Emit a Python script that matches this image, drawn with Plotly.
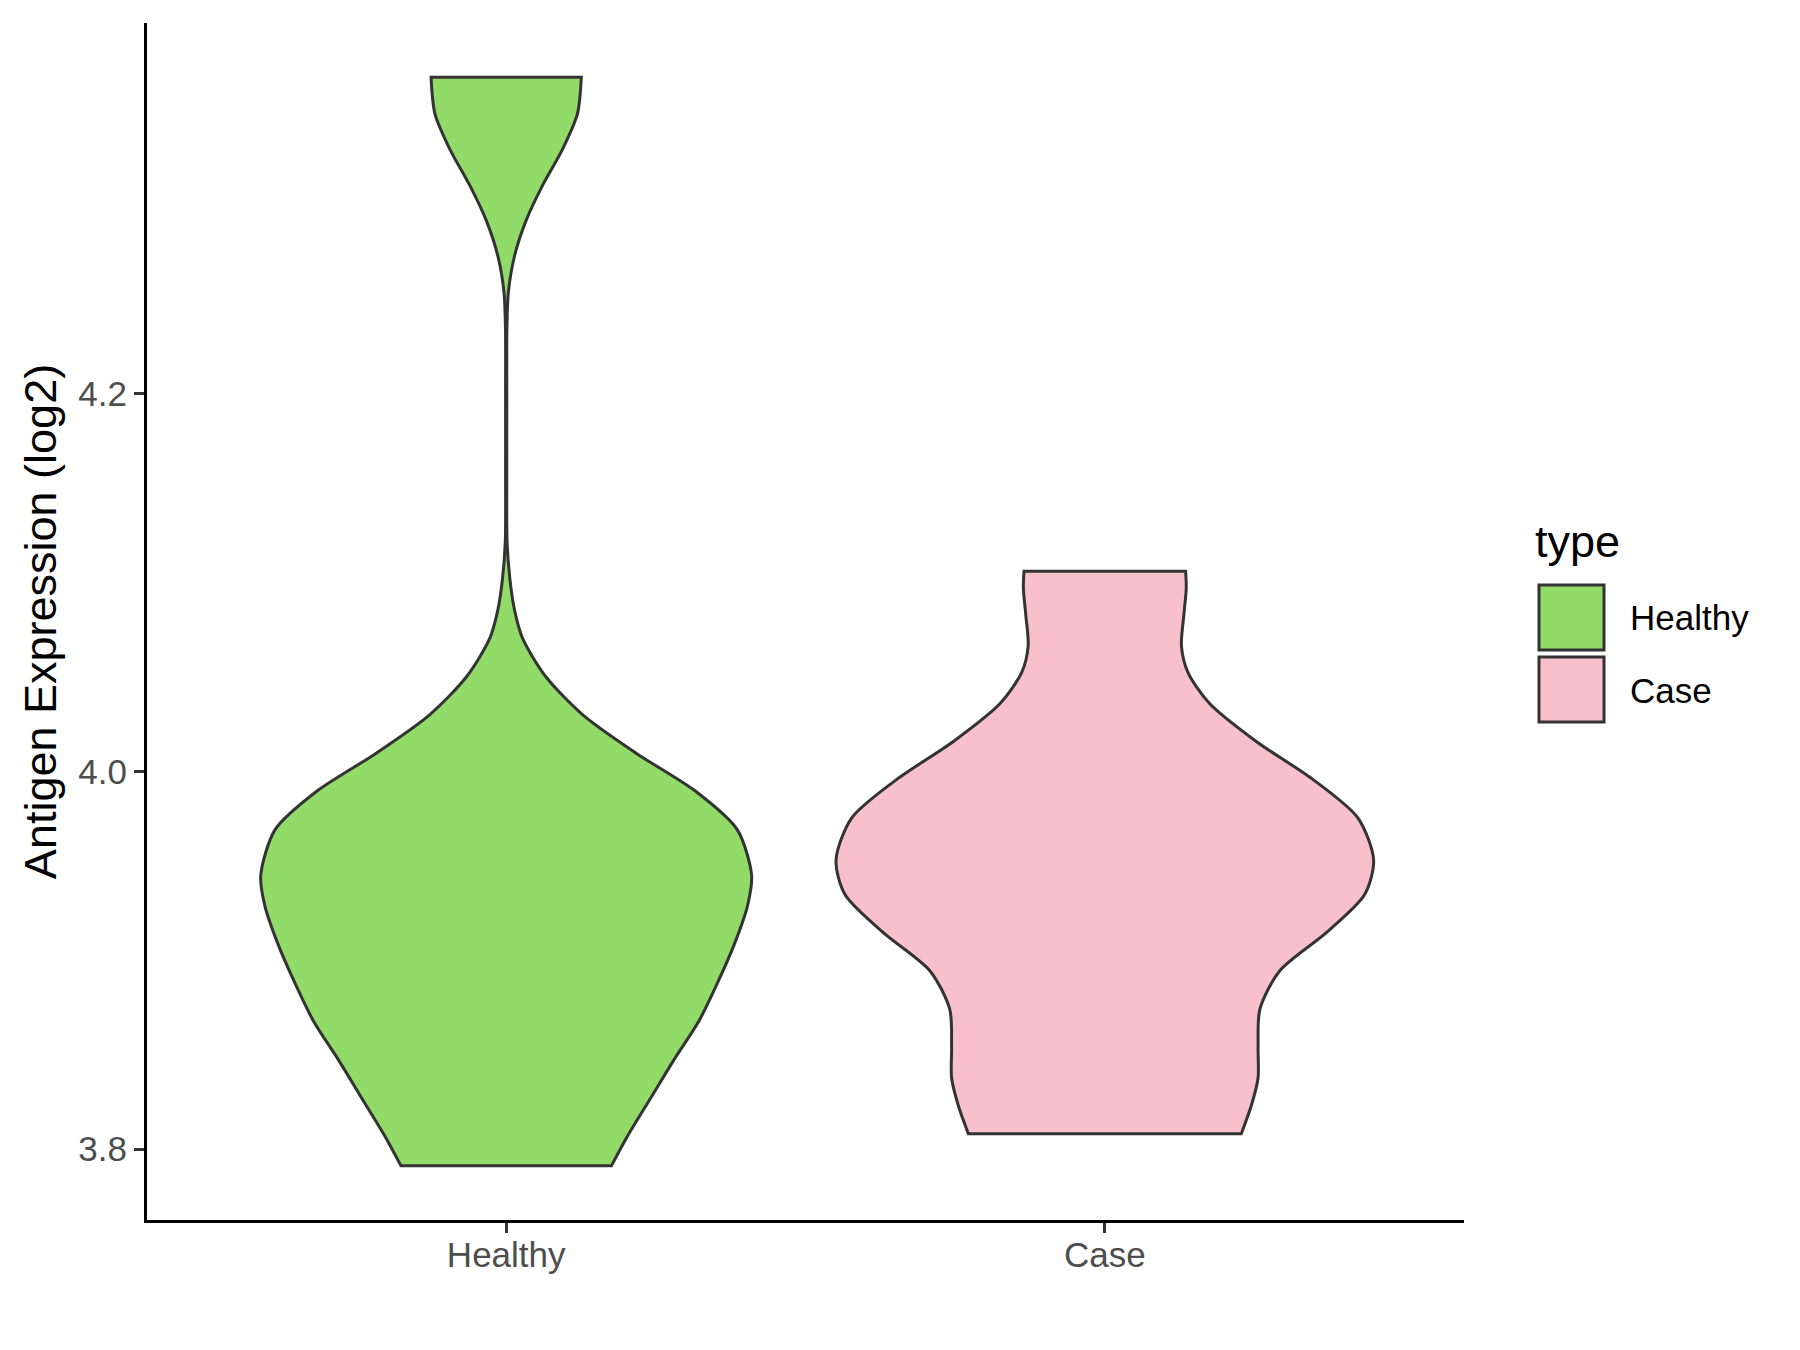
import plotly.graph_objects as go

# categories and their positions on the x axis
categories = ["Healthy", "Case"]
positions = [1, 2]
fill_colors = ["#93DB69", "#F7C0CB"]

# violin outlines: expression value and half-width (in category units)
healthy_y = [4.3677, 4.3484, 4.3296, 4.3106, 4.2917, 4.2728, 4.2540, 4.2350, 4.2000,
             4.1600, 4.1215, 4.1026, 4.0855, 4.0705, 4.0503, 4.0300, 4.0097, 3.9894,
             3.9692, 3.9449, 3.9287, 3.9084, 3.8880, 3.8678, 3.8476, 3.8273, 3.8070, 3.7912]
healthy_hw = [0.1255, 0.119, 0.094, 0.061, 0.033, 0.0137, 0.0037, 0.0012, 0.001,
              0.001, 0.0015, 0.006, 0.014, 0.0275, 0.066, 0.128, 0.217, 0.317,
              0.386, 0.410, 0.403, 0.381, 0.353, 0.322, 0.281, 0.242, 0.203, 0.176]

case_y = [4.1061, 4.0970, 4.0828, 4.0666, 4.0524, 4.0360, 4.0159, 3.9957, 3.9753,
          3.9531, 3.9348, 3.9146, 3.8943, 3.8740, 3.8538, 3.8376, 3.8233, 3.8081]
case_hw = [0.135, 0.136, 0.132, 0.128, 0.139, 0.175, 0.253, 0.348, 0.423,
           0.449, 0.434, 0.370, 0.292, 0.259, 0.256, 0.256, 0.245, 0.228]

y_ticks = [3.8, 4.0, 4.2]
y_range = [3.7624, 4.3965]

outlines = [(healthy_y, healthy_hw), (case_y, case_hw)]

FONT = "Liberation Sans, Arial, sans-serif"
EDGE = "#333333"

# the page puts the figure 8px in from the top-left corner
OFF = 8
W, H = 1800, 1350
L, R, T, B = 147 - OFF, 336 + OFF, 23 - OFF, 130 + OFF
PW, PH = W - L - R, H - T - B


def px(x):
    # screenshot x pixel -> paper coordinate
    return (x - OFF - L) / PW


def py(y):
    return 1 - (y - OFF - T) / PH


fig = go.Figure()

for pos, (ys, hws), color, name in zip(positions, outlines, fill_colors, categories):
    # doubled corner points keep the flat ends sharp under spline smoothing
    left_x = [pos - hws[0]] + [pos - w for w in hws] + [pos - hws[-1]]
    right_x = [pos + hws[-1]] + [pos + w for w in reversed(hws)] + [pos + hws[0]]
    left_y = [ys[0]] + list(ys) + [ys[-1]]
    right_y = [ys[-1]] + list(reversed(ys)) + [ys[0]]
    xs = left_x + right_x + [pos - hws[0], pos - hws[0]]
    yy = left_y + right_y + [ys[0], ys[0]]
    fig.add_trace(go.Scatter(
        x=xs, y=yy,
        mode="lines",
        fill="toself",
        fillcolor=color,
        line=dict(color=EDGE, width=3, shape="spline", smoothing=0.8, simplify=False),
        name=name,
        showlegend=False,
        hoverinfo="skip",
    ))

# legend drawn by hand to get the big ggplot keys
shapes = []
annotations = [dict(
    x=px(1533), y=py(542), xref="paper", yref="paper",
    text="type", showarrow=False, xanchor="left", yanchor="middle",
    font=dict(size=45, color="black", family=FONT),
)]
key_tops = [585, 657]
for top, color, name in zip(key_tops, fill_colors, categories):
    shapes.append(dict(
        type="rect", xref="paper", yref="paper",
        x0=px(1539), x1=px(1604), y0=py(top), y1=py(top + 65),
        fillcolor=color, line=dict(color=EDGE, width=3),
    ))
    annotations.append(dict(
        x=px(1628), y=py(top + 33), xref="paper", yref="paper",
        text=name, showarrow=False, xanchor="left", yanchor="middle",
        font=dict(size=35, color="black", family=FONT),
    ))

fig.update_layout(
    width=W, height=H,
    margin=dict(l=L, r=R, t=T, b=B),
    paper_bgcolor="white",
    plot_bgcolor="white",
    font=dict(family=FONT, size=35, color="#4D4D4D"),
    showlegend=False,
    shapes=shapes,
    annotations=annotations,
)

fig.update_xaxes(
    range=[0.4, 2.6],
    tickvals=positions,
    ticktext=categories,
    showline=True, linecolor="black", linewidth=3.2,
    ticks="outside", ticklen=10, tickwidth=2.7, tickcolor=EDGE,
    ticklabelstandoff=-8,
    tickfont=dict(size=35, color="#4D4D4D", family=FONT),
    showgrid=False, zeroline=False, automargin=False,
)

fig.update_yaxes(
    range=y_range,
    tickvals=y_ticks,
    ticktext=[f"{v:.1f}" for v in y_ticks],
    showline=True, linecolor="black", linewidth=3.2,
    ticks="outside", ticklen=10, tickwidth=2.7, tickcolor=EDGE,
    ticklabelstandoff=0,
    tickfont=dict(size=35, color="#4D4D4D", family=FONT),
    showgrid=False, zeroline=False, automargin=False,
    title=dict(text="Antigen Expression (log2)",
               font=dict(size=45, color="black", family=FONT),
               standoff=8),
)

fig.write_html("out.html")
